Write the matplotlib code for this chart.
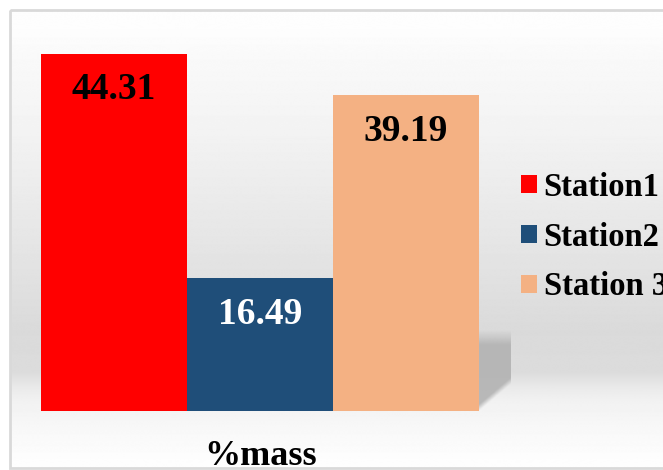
import numpy as np
import matplotlib
matplotlib.use("Agg")
import matplotlib.pyplot as plt
from matplotlib.patches import Rectangle

# данные
stations = ["Station1", "Station2", "Station 3"]
values = [44.31, 16.49, 39.19]
bar_colors = ["#ff0000", "#1f4e79", "#f4b183"]
label_colors = ["black", "white", "black"]
xlabel = "%mass"

W, H = 663, 470
fig = plt.figure(figsize=(W / 100, H / 100), dpi=100)
fig.patch.set_facecolor("white")

# фон с градиентом
bg = fig.add_axes([0, 0, 1, 1], zorder=-5)
rows = np.arange(H)
stops_y = [11, 50, 120, 250, 330, 372, 388, 400, 430, 466]
stops_v = [254, 249, 243, 228, 218, 220, 234, 241, 248, 254]
grad = np.interp(rows, stops_y, stops_v) / 255.0
img = np.repeat(grad[:, None], 2, axis=1)
bg.imshow(img, cmap="gray", vmin=0, vmax=1, aspect="auto",
          extent=[11, W + 5, 467, 11], interpolation="bilinear")
bg.add_patch(Rectangle((10, 10), W, 458, fill=False, edgecolor="#d9d9d9", lw=2))
bg.set_xlim(0, W)
bg.set_ylim(H, 0)
bg.axis("off")

ax = fig.add_axes([41 / W, 59 / H, 438 / W, 403 / H])
ax.patch.set_alpha(0)
x = np.arange(len(values))
for i in range(len(values)):
    ax.bar(x[i], values[i], width=1.0, color=bar_colors[i], label=stations[i], zorder=3)
    ax.annotate(f"{values[i]:.2f}", (x[i], values[i]), xytext=(0, -36),
                textcoords="offset pixels", ha="center", va="center",
                fontsize=27, fontweight="bold", family="Liberation Serif",
                color=label_colors[i], zorder=4)

# тень справа от столбцов
sw = 32 / 146
sh = 81 / 8.06
u = np.linspace(0, 1, 40)[None, :]
v = np.linspace(1, 0, 100)[:, None]
alpha = np.clip((v - 0.33 * u) / 0.08, 0, 1) * np.clip((1 - v) / 0.18, 0, 1)
shadow = np.zeros((100, 40, 4))
shadow[..., :3] = 0.70
shadow[..., 3] = alpha * 0.9
x_end = len(values) - 0.5
ax.imshow(shadow, extent=[x_end, x_end + sw, 0, sh], aspect="auto",
          zorder=1, interpolation="bilinear", clip_on=False)

ax.set_xlim(-0.5, 2.5)
ax.set_ylim(0, 50)
ax.axis("off")

ax.legend(loc="center left", bbox_to_anchor=(521 / W, 1 - 237 / H),
          bbox_transform=fig.transFigure, frameon=False,
          prop={"family": "Liberation Serif", "weight": "bold", "size": 23.5},
          handlelength=0.49, handleheight=0.49, handletextpad=0.2,
          labelspacing=0.58, borderpad=0, borderaxespad=0)

fig.text(261 / W, 5 / H, xlabel, ha="center", va="baseline",
         fontsize=26, fontweight="bold", family="Liberation Serif")

plt.savefig("out.png", dpi=100)
plt.close()
